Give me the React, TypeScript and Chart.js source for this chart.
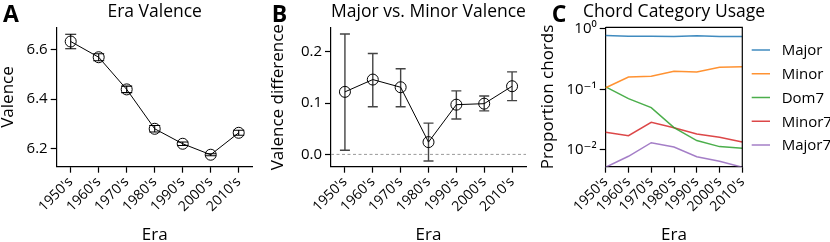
import React, { useEffect, useRef } from "react";
import { Chart, registerables } from "chart.js";

Chart.register(...registerables);

// ---------- data ----------
const ERAS = ["1950's", "1960's", "1970's", "1980's", "1990's", "2000's", "2010's"];

const VALENCE = [6.631, 6.568, 6.439, 6.281, 6.221, 6.177, 6.265];
const VALENCE_ERR = [0.029, 0.014, 0.013, 0.013, 0.007, 0.004, 0.01];
const VALENCE_TICKS = [6.2, 6.4, 6.6];

const DIFF = [0.122, 0.146, 0.131, 0.024, 0.097, 0.099, 0.133];
const DIFF_LOW = [0.008, 0.093, 0.093, -0.013, 0.069, 0.085, 0.105];
const DIFF_HIGH = [0.235, 0.197, 0.167, 0.061, 0.124, 0.114, 0.161];
const DIFF_TICKS = [0.0, 0.1, 0.2];

const CHORD_NAMES = ["Major", "Minor", "Dom7", "Minor7", "Major7"];
const MAJOR = [0.78, 0.76, 0.76, 0.75, 0.77, 0.75, 0.75];
const MINOR = [0.106, 0.16, 0.164, 0.199, 0.194, 0.232, 0.237];
const DOM7 = [0.11, 0.0699, 0.0496, 0.0231, 0.0141, 0.0112, 0.0105];
const MINOR7 = [0.0194, 0.017, 0.0283, 0.0231, 0.0181, 0.016, 0.0134];
const MAJOR7 = [0.0051, 0.00774, 0.013, 0.011, 0.00763, 0.0064, 0.0051];
const CHORD_SERIES = [MAJOR, MINOR, DOM7, MINOR7, MAJOR7];
const CHORD_COLORS = [
  "rgba(31,119,180,0.85)",
  "rgba(255,127,14,0.85)",
  "rgba(44,160,44,0.85)",
  "rgba(214,39,40,0.85)",
  "rgba(148,103,189,0.85)",
];
const LOG_TICKS = [0.01, 0.1, 1];
const LOG_TICK_LABELS = ["10\u207B\u00B2", "10\u207B\u00B9", "10\u2070"];

// ---------- styling ----------
const FONT = "'Open Sans', 'DejaVu Sans', sans-serif";
const BLACK = "#000";
const H = 242;

function xAxis(offset: boolean, height: number) {
  return {
    type: "category",
    offset,
    grid: {
      display: true,
      drawOnChartArea: false,
      drawTicks: true,
      tickLength: 6,
      tickWidth: 1.2,
      tickColor: BLACK,
      offset: false,
    },
    border: { display: true, color: BLACK, width: 1.2 },
    ticks: {
      color: BLACK,
      font: { family: FONT, size: 14 },
      minRotation: 45,
      maxRotation: 45,
      autoSkip: false,
      padding: 1,
    },
    title: {
      display: true,
      text: "Era",
      color: BLACK,
      font: { family: FONT, size: 17 },
      padding: { top: 0, bottom: -3 },
    },
    afterFit: (s: any) => {
      s.height = height;
    },
  };
}

function yAxis(extra: any, title: string, width: number) {
  return {
    ...extra,
    grid: {
      display: true,
      drawOnChartArea: false,
      drawTicks: true,
      tickLength: 6,
      tickWidth: 1.2,
      tickColor: BLACK,
    },
    border: { display: true, color: BLACK, width: 1.2 },
    ticks: {
      color: BLACK,
      font: { family: FONT, size: 15 },
      padding: 3,
      ...(extra.ticks || {}),
    },
    title: {
      display: true,
      text: title,
      color: BLACK,
      font: { family: FONT, size: 17 },
      padding: { top: -2, bottom: 0 },
    },
    afterFit: (s: any) => {
      s.width = width;
    },
  };
}

function decorPlugin(letter: string, letterX: number, title: string) {
  return {
    id: "decor",
    afterDraw(chart: any) {
      const { ctx, chartArea } = chart;
      ctx.save();
      ctx.fillStyle = BLACK;
      ctx.textBaseline = "alphabetic";
      ctx.textAlign = "left";
      ctx.font = `bold 23px ${FONT}`;
      ctx.fillText(letter, letterX, 22);
      ctx.font = `17.5px ${FONT}`;
      ctx.textAlign = "center";
      ctx.fillText(title, (chartArea.left + chartArea.right) / 2, 17);
      ctx.restore();
    },
  };
}

function errorBarPlugin(low: number[], high: number[], color: string, width: number, cap: number) {
  return {
    id: "errorBars",
    beforeDatasetsDraw(chart: any) {
      const { ctx } = chart;
      const xs = chart.scales.x;
      const ys = chart.scales.y;
      ctx.save();
      ctx.strokeStyle = color;
      ctx.lineWidth = width;
      low.forEach((lo, i) => {
        const px = xs.getPixelForValue(i);
        const y1 = ys.getPixelForValue(lo);
        const y2 = ys.getPixelForValue(high[i]);
        ctx.beginPath();
        ctx.moveTo(px, y1);
        ctx.lineTo(px, y2);
        ctx.moveTo(px - cap, y1);
        ctx.lineTo(px + cap, y1);
        ctx.moveTo(px - cap, y2);
        ctx.lineTo(px + cap, y2);
        ctx.stroke();
      });
      ctx.restore();
    },
  };
}

const zeroLinePlugin = {
  id: "zeroLine",
  beforeDatasetsDraw(chart: any) {
    const { ctx, chartArea } = chart;
    const y = chart.scales.y.getPixelForValue(0);
    ctx.save();
    ctx.strokeStyle = "#9a9a9a";
    ctx.lineWidth = 1;
    ctx.setLineDash([3, 2.5]);
    ctx.beginPath();
    ctx.moveTo(chartArea.left, y);
    ctx.lineTo(chartArea.right, y);
    ctx.stroke();
    ctx.restore();
  },
};

const boxPlugin = {
  id: "box",
  afterDraw(chart: any) {
    const { ctx, chartArea } = chart;
    ctx.save();
    ctx.strokeStyle = BLACK;
    ctx.lineWidth = 1.2;
    ctx.beginPath();
    ctx.moveTo(chartArea.left, chartArea.top);
    ctx.lineTo(chartArea.right, chartArea.top);
    ctx.lineTo(chartArea.right, chartArea.bottom);
    ctx.stroke();
    ctx.restore();
  },
};

const legendPlugin = {
  id: "sideLegend",
  afterDraw(chart: any) {
    const { ctx, chartArea } = chart;
    const ds = chart.data.datasets;
    const step = 23.75;
    const cy = (chartArea.top + chartArea.bottom) / 2 + 0.5;
    const x0 = chartArea.right + 9.4;
    ctx.save();
    ctx.font = `15px ${FONT}`;
    ctx.textBaseline = "middle";
    ctx.textAlign = "left";
    ds.forEach((d: any, i: number) => {
      const y = cy + (i - (ds.length - 1) / 2) * step;
      ctx.strokeStyle = d.borderColor;
      ctx.lineWidth = 1.5;
      ctx.beginPath();
      ctx.moveTo(x0, y);
      ctx.lineTo(x0 + 18.3, y);
      ctx.stroke();
      ctx.fillStyle = BLACK;
      ctx.fillText(d.label, x0 + 30, y + 1);
    });
    ctx.restore();
  },
};

// ---------- configs ----------
function configA(): any {
  return {
    type: "line",
    data: {
      labels: ERAS,
      datasets: [
        {
          data: VALENCE,
          borderColor: BLACK,
          borderWidth: 1,
          pointRadius: 5.5,
          pointBorderColor: BLACK,
          pointBackgroundColor: "rgba(0,0,0,0)",
          pointBorderWidth: 1,
          tension: 0,
        },
      ],
    },
    options: {
      responsive: false,
      animation: false,
      events: [],
      devicePixelRatio: 1,
      layout: { padding: { left: 0, right: 17.3, top: 27.3, bottom: 0 } },
      plugins: { legend: { display: false }, tooltip: { enabled: false } },
      scales: {
        x: xAxis(true, H - 166.7),
        y: yAxis(
          {
            type: "linear",
            min: 6.129,
            max: 6.688,
            afterBuildTicks: (s: any) => {
              s.ticks = VALENCE_TICKS.map((v) => ({ value: v }));
            },
            ticks: { callback: (v: any) => Number(v).toFixed(1) },
          },
          "Valence",
          56.7
        ),
      },
    },
    plugins: [
      decorPlugin("A", 3, "Era Valence"),
      errorBarPlugin(
        VALENCE.map((v, i) => v - VALENCE_ERR[i]),
        VALENCE.map((v, i) => v + VALENCE_ERR[i]),
        BLACK,
        1.1,
        5.5
      ),
    ],
  };
}

function configB(): any {
  return {
    type: "line",
    data: {
      labels: ERAS,
      datasets: [
        {
          data: DIFF,
          borderColor: BLACK,
          borderWidth: 1,
          pointRadius: 5.5,
          pointBorderColor: BLACK,
          pointBackgroundColor: "rgba(0,0,0,0)",
          pointBorderWidth: 1,
          tension: 0,
        },
      ],
    },
    options: {
      responsive: false,
      animation: false,
      events: [],
      devicePixelRatio: 1,
      layout: { padding: { left: 0, right: 19, top: 27.8, bottom: 0 } },
      plugins: { legend: { display: false }, tooltip: { enabled: false } },
      scales: {
        x: xAxis(true, H - 166.7),
        y: yAxis(
          {
            type: "linear",
            min: -0.024,
            max: 0.247,
            afterBuildTicks: (s: any) => {
              s.ticks = DIFF_TICKS.map((v) => ({ value: v }));
            },
            ticks: { callback: (v: any) => Number(v).toFixed(1) },
          },
          "Valence difference",
          61
        ),
      },
    },
    plugins: [
      decorPlugin("B", 1.7, "Major vs. Minor Valence"),
      zeroLinePlugin,
      errorBarPlugin(DIFF_LOW, DIFF_HIGH, "#444", 1.4, 5),
    ],
  };
}

function configC(): any {
  return {
    type: "line",
    data: {
      labels: ERAS,
      datasets: CHORD_SERIES.map((s, i) => ({
        label: CHORD_NAMES[i],
        data: s,
        borderColor: CHORD_COLORS[i],
        backgroundColor: CHORD_COLORS[i],
        borderWidth: 1.5,
        pointRadius: 0,
        tension: 0,
      })),
    },
    options: {
      responsive: false,
      animation: false,
      events: [],
      devicePixelRatio: 1,
      layout: { padding: { left: 0, right: 87.7, top: 27.3, bottom: 0 } },
      plugins: { legend: { display: false }, tooltip: { enabled: false } },
      scales: {
        x: xAxis(false, H - 166.7),
        y: yAxis(
          {
            type: "logarithmic",
            min: 0.0052,
            max: 1.067,
            afterBuildTicks: (s: any) => {
              s.ticks = LOG_TICKS.map((v) => ({ value: v }));
            },
            ticks: { callback: (_v: any, i: number) => LOG_TICK_LABELS[i] },
          },
          "Proportion chords",
          65.7
        ),
      },
    },
    plugins: [decorPlugin("C", 11.7, "Chord Category Usage"), boxPlugin, legendPlugin],
  };
}

function Panel({ left, width, make }: { left: number; width: number; make: () => any }) {
  const ref = useRef<HTMLCanvasElement | null>(null);
  useEffect(() => {
    if (!ref.current) return;
    const chart = new Chart(ref.current, make());
    return () => chart.destroy();
  }, []);
  return (
    <canvas
      ref={ref}
      width={width}
      height={H}
      style={{ position: "absolute", left, top: 0, width, height: H }}
    />
  );
}

export default function App() {
  return (
    <div
      style={{
        position: "absolute",
        left: 0,
        top: 0,
        width: 830,
        height: H,
        background: "#fff",
        overflow: "hidden",
      }}
    >
      <Panel left={0} width={270} make={configA} />
      <Panel left={270} width={275} make={configB} />
      <Panel left={540} width={290} make={configC} />
    </div>
  );
}
